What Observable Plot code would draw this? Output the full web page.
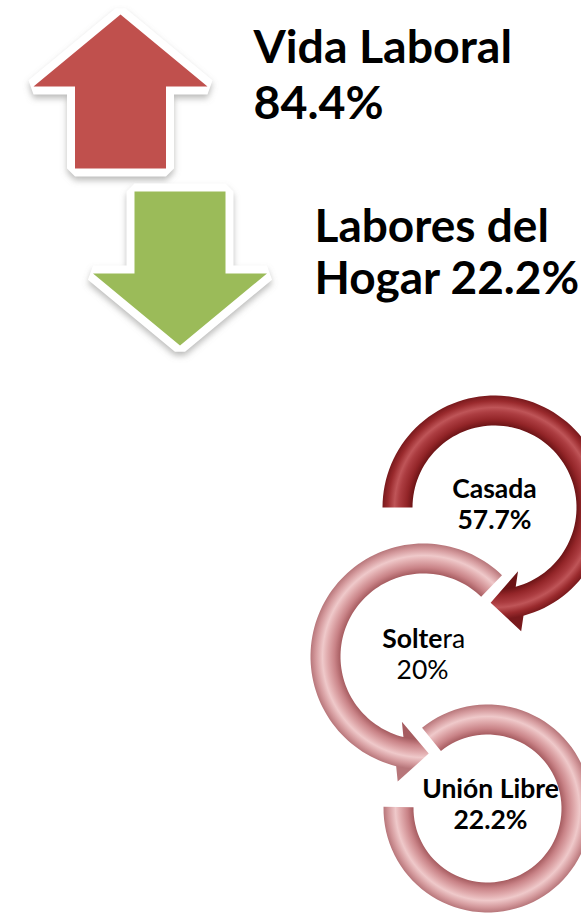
<!DOCTYPE html>
<html><head><meta charset="utf-8">
<script src="https://cdn.jsdelivr.net/npm/d3@7"></script>
<script src="https://cdn.jsdelivr.net/npm/@observablehq/plot@0.6"></script>
<style>html,body{margin:0;padding:0;background:#fff;overflow:hidden}</style>
</head><body><div id="chart"></div>
<script>
// ---- data ----
const trendLabels = ["Vida Laboral", "Labores del\nHogar"];
const trendValues = [84.4, 22.2];
const trendDirections = ["up", "down"];
const statusLabels = ["Casada", "Soltera", "Unión Libre"];
const statusValues = [57.7, 20, 22.2];

// ---- layout (pixel space of the 581x917 canvas) ----
const W = 581, H = 917;
const blockGeom = {headHalf: 87, headLen: 72, shaftHalf: 45.5, length: 154};
const blockLayout = [
  {cx: 120, tipY: 14, textX: 253, textY: 118, fontSize: 46.5, spacing: 56, fill: "#c0504d"},
  {cx: 179.5, tipY: 345, textX: 314, textY: 293, fontSize: 46, spacing: 52, fill: "#9bbb59"}
];
const darkRing = ["#6c1416", "#932528", "#ac3d41", "#bf5558", "#9a2a2d", "#78191c"];
const pinkRing = ["#a65c60", "#c98387", "#e2aeb0", "#efc9ca", "#d59b9e", "#b7767a"];
const ringLayout = [
  {cx: 494, cy: 507, R: 112, r: 82, a0: 180, a1: 435, head: true, headDir: 177, palette: darkRing, key: "#a00001", tx: 494, ty: 528},
  {cx: 423, cy: 656, R: 113, r: 83, a0: -46, a1: -256, head: true, headDir: 4, palette: pinkRing, key: "#a00002", tx: 422, ty: 678, splitAt: 5, splitX: 442, splitY: 647},
  {cx: 487, cy: 808, R: 104, r: 74, a0: -129, a1: 181, head: false, palette: pinkRing, key: "#a00003", tx: 490, ty: 828}
];
const smallFont = 26.5, smallSpacing = 31;
const SHADOW = "#7f7f7e";

function blockArrow(cx, tipY, dir) {
  const {headHalf, headLen, shaftHalf, length} = blockGeom;
  const s = dir === "up" ? 1 : -1;
  const y = t => tipY + s * t;
  return [
    [cx, y(0)], [cx + headHalf, y(headLen)], [cx + shaftHalf, y(headLen)],
    [cx + shaftHalf, y(length)], [cx - shaftHalf, y(length)],
    [cx - shaftHalf, y(headLen)], [cx - headHalf, y(headLen)]
  ].map(([x, yy]) => ({x, y: yy}));
}

function curvedArrow({cx, cy, R, r, a0, a1, head, headDir}) {
  const rad = d => d * Math.PI / 180;
  const n = 90, pts = [];
  const P = (rr, a) => ({x: cx + rr * Math.cos(rad(a)), y: cy + rr * Math.sin(rad(a))});
  for (let i = 0; i <= n; i++) pts.push(P(R, a0 + (a1 - a0) * i / n));
  if (head) {
    const m = (R + r) / 2, a = rad(a1), sg = a1 > a0 ? 1 : -1;
    const bx = cx + m * Math.cos(a), by = cy + m * Math.sin(a);
    let dx = -sg * Math.sin(a), dy = sg * Math.cos(a);
    if (headDir !== undefined) { dx = Math.cos(rad(headDir)); dy = Math.sin(rad(headDir)); }
    let px = -dy, py = dx;
    if (px * Math.cos(a) + py * Math.sin(a) < 0) { px = -px; py = -py; }
    const half = 30, L = 29;
    pts.push({x: bx + px * half, y: by + py * half});
    pts.push({x: bx + dx * L, y: by + dy * L});
    pts.push({x: bx - px * half, y: by - py * half});
  }
  for (let i = n; i >= 0; i--) pts.push(P(r, a0 + (a1 - a0) * i / n));
  return pts;
}

const marks = [];
// block arrows
trendDirections.forEach((dir, i) => {
  const L = blockLayout[i];
  const pts = blockArrow(L.cx, L.tipY, dir);
  const shadowPts = pts.map(p => ({x: p.x, y: p.y + 4}));
  marks.push(Plot.line(shadowPts, {x: "x", y: "y", curve: "linear-closed", fill: SHADOW, stroke: SHADOW, strokeWidth: 16, strokeLinejoin: "miter", strokeOpacity: 0.5, fillOpacity: 0.5}));
  marks.push(Plot.line(pts, {x: "x", y: "y", curve: "linear-closed", fill: "white", stroke: "white", strokeWidth: 16, strokeLinejoin: "miter"}));
  marks.push(Plot.line(pts, {x: "x", y: "y", curve: "linear-closed", fill: L.fill, stroke: "none"}));
  const label = trendLabels[i];
  const text = label + (label.includes("\n") ? " " : "\n") + trendValues[i] + "%";
  marks.push(Plot.text([text], {x: () => L.textX, y: () => L.textY, text: d => d, textAnchor: "start", lineAnchor: "bottom",
    fontSize: L.fontSize, fontWeight: "bold", lineHeight: L.spacing / L.fontSize, fill: "black"}));
});

// circular arrows (drawn bottom to top)
[2, 1, 0].forEach(i => {
  const L = ringLayout[i];
  marks.push(Plot.line(curvedArrow(L), {x: "x", y: "y", curve: "linear-closed", fill: L.key, stroke: "none"}));
});
statusLabels.forEach((label, i) => {
  const L = ringLayout[i];
  if (L.splitAt) {
    marks.push(Plot.text([label.slice(0, L.splitAt)], {x: () => L.splitX, y: () => L.splitY, text: d => d, textAnchor: "end", lineAnchor: "bottom", fontSize: smallFont, fontWeight: "bold", fill: "black"}));
    marks.push(Plot.text([label.slice(L.splitAt)], {x: () => L.splitX, y: () => L.splitY, text: d => d, textAnchor: "start", lineAnchor: "bottom", fontSize: smallFont, fontWeight: "normal", fill: "black"}));
    marks.push(Plot.text([statusValues[i] + "%"], {x: () => L.tx, y: () => L.ty, text: d => d, textAnchor: "middle", lineAnchor: "bottom", fontSize: smallFont, fontWeight: "normal", fill: "black"}));
  } else {
    marks.push(Plot.text([label + "\n" + statusValues[i] + "%"], {x: () => L.tx, y: () => L.ty, text: d => d, textAnchor: "middle", lineAnchor: "bottom", fontSize: smallFont, fontWeight: "bold", lineHeight: smallSpacing / smallFont, fill: "black"}));
  }
});

const svg = Plot.plot({
  width: W, height: H, margin: 0,
  x: {domain: [0, W], range: [0, W], axis: null},
  y: {domain: [0, H], range: [0, H], axis: null},
  style: {background: "white", fontFamily: "Lato, 'Open Sans', sans-serif", overflow: "hidden"},
  marks
});
document.getElementById("chart").appendChild(svg);

// gradients + soft shadow filter
const ns = "http://www.w3.org/2000/svg";
const defs = document.createElementNS(ns, "defs");
const filter = document.createElementNS(ns, "filter");
filter.setAttribute("id", "soft"); filter.setAttribute("x", "-20%"); filter.setAttribute("y", "-20%");
filter.setAttribute("width", "140%"); filter.setAttribute("height", "140%");
const blur = document.createElementNS(ns, "feGaussianBlur");
blur.setAttribute("stdDeviation", "3");
filter.appendChild(blur); defs.appendChild(filter);
ringLayout.forEach((L, i) => {
  const g = document.createElementNS(ns, "radialGradient");
  g.setAttribute("id", "ring" + i);
  g.setAttribute("gradientUnits", "userSpaceOnUse");
  g.setAttribute("cx", L.cx); g.setAttribute("cy", L.cy); g.setAttribute("r", L.R + 15);
  const ts = [0, 0.2, 0.45, 0.6, 0.82, 1];
  ts.forEach((t, k) => {
    const s = document.createElementNS(ns, "stop");
    s.setAttribute("offset", ((L.r + t * (L.R - L.r)) / (L.R + 15)).toFixed(4));
    s.setAttribute("stop-color", L.palette[k]);
    g.appendChild(s);
  });
  defs.appendChild(g);
  svg.querySelectorAll(`[fill="${L.key}"]`).forEach(el => el.setAttribute("fill", `url(#ring${i})`));
});
svg.insertBefore(defs, svg.firstChild);
svg.querySelectorAll(`[stroke="${SHADOW}"]`).forEach(el => el.setAttribute("filter", "url(#soft)"));
</script>
</body></html>
